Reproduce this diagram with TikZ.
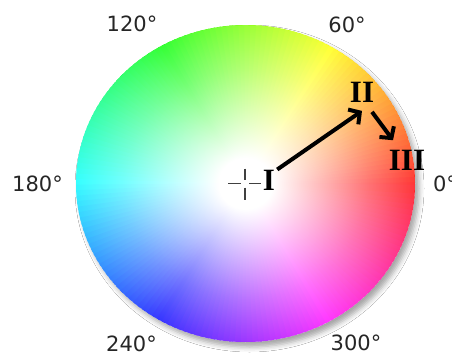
\documentclass[tikz,border=0pt]{standalone}
\usepackage{fontspec}
\setmainfont{DejaVu Sans}
\newfontfamily\romanfont{Liberation Serif}
\usetikzlibrary{arrows.meta,fadings,shadows.blur}
\pgfdeclareradialshading{wheelshade}{\pgfpointorigin}{color(0bp)=(pgftransparent!0); color(4bp)=(pgftransparent!0); color(18bp)=(pgftransparent!55); color(31bp)=(pgftransparent!100); color(50bp)=(pgftransparent!100)}
\pgfdeclarefading{wheelfade}{\pgfuseshading{wheelshade}}
\tikzset{
  deglabel/.style={inner sep=0pt, anchor=base, text=black!85, font=\fontsize{21}{21}\selectfont},
  roman/.style={inner sep=0pt, anchor=base, text=black, font=\romanfont\bfseries\fontsize{31}{31}\selectfont},
  arr/.style={line width=4pt, draw=black, -{Straight Barb[length=8pt,width=18pt,line width=4pt]}},
  crossline/.style={line width=1.4pt, draw=black!75},
}
\begin{document}
\begin{tikzpicture}[x=1pt,y=-1pt]
\useasboundingbox[fill=white] (0,0) rectangle (452,356);
% shadow
\fill[white, blur shadow={shadow xshift=4pt, shadow yshift=-5pt, shadow blur radius=5pt, shadow opacity=35}] (245.5,183.5) ellipse [x radius=169.5, y radius=158.5];
% hue wheel
\begin{scope}[shift={(245.5,183.5)}, yscale=-1]
  \foreach \h in {0,2,...,358} {
    \definecolor{huecol}{Hsb}{\h,1,1}
    \fill[huecol] (0,0) -- ({\h-1.6}:169.5 and 158.5) arc[start angle={\h-1.6}, end angle={\h+1.6}, x radius=169.5, y radius=158.5] -- cycle;
  }
  \fill[white, path fading=wheelfade] (0,0) ellipse [x radius=169.5, y radius=158.5];
\end{scope}
% crosshair
\coordinate (c) at (245,183.5);
\draw[crossline] ([xshift=-17pt]c) -- ([xshift=-4pt]c);
\draw[crossline] ([xshift=4pt]c) -- ([xshift=16pt]c);
\draw[crossline] ([yshift=15pt]c) -- ([yshift=4pt]c);
\draw[crossline] ([yshift=-4pt]c) -- ([yshift=-16pt]c);
% degree labels
\node[deglabel] (d0) at (445,191.7) {0°};
\node[deglabel] (d60) at (347,32.3) {60°};
\node[deglabel] (d120) at (132,31.7) {120°};
\node[deglabel] (d180) at (37.5,191.7) {180°};
\node[deglabel] (d240) at (131.5,351.7) {240°};
\node[deglabel] (d300) at (356,350.7) {300°};
% roman numerals
\node[roman] (I) at (269,190) {I};
\node[roman] (II) at (362,102.7) {II};
\node[roman] (III) at (407,170.7) {III};
% arrows
\draw[arr] ([xshift=2pt]I.north east) -- ([yshift=-8pt]II.south);
\draw[arr] ([xshift=10pt,yshift=-9pt]II.south) -- ([xshift=-14pt,yshift=10pt]III.north);
\end{tikzpicture}
\end{document}
